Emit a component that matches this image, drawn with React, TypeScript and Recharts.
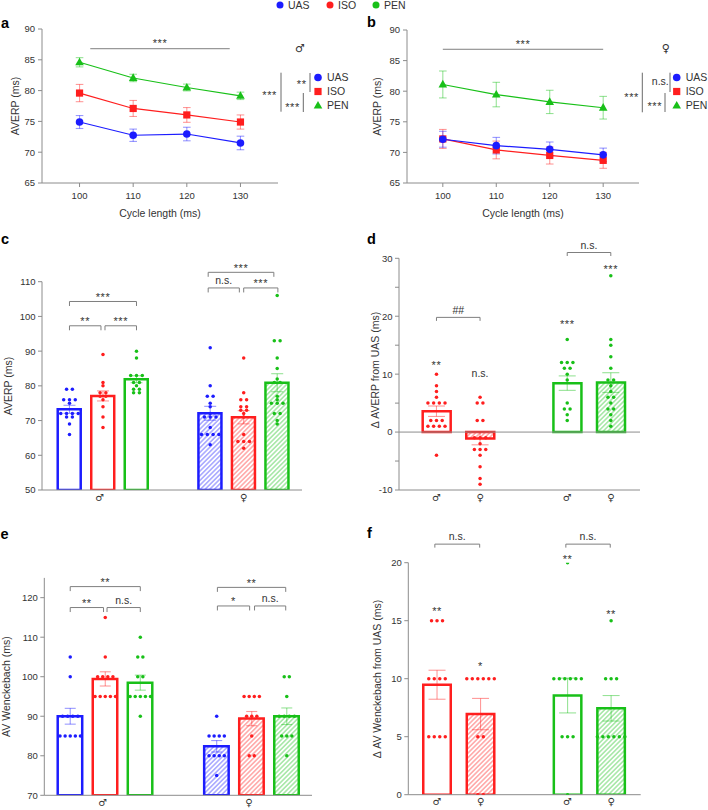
import React from 'react';
import {
  ComposedChart,
  Line,
  Bar,
  Cell,
  Scatter,
  ErrorBar,
  XAxis,
  YAxis,
  ReferenceLine,
  ReferenceDot,
} from 'recharts';

const FONT = '"Liberation Sans", Arial, Helvetica, sans-serif';
const SYMBOL_FONT = '"DejaVu Sans", "Noto Sans", sans-serif';
const INK = '#333333';
const AXIS = '#8c8c8c';
const BRACKET = '#7f7f7f';
const COLORS: Record<string, string> = { UAS: '#1c1cff', ISO: '#ff1e1e', PEN: '#18c018' };
const SOFT: Record<string, string> = {
  UAS: 'rgba(28,28,255,0.45)',
  ISO: 'rgba(255,30,30,0.45)',
  PEN: 'rgba(24,192,24,0.45)',
};

const conditions = ['UAS', 'ISO', 'PEN'];
const sexSymbols = ['♂', '♀'];

// ---- AVERP vs pacing cycle length ----
const cycleLengths = [100, 110, 120, 130];
const maleUasAverp = [74.9, 72.75, 72.95, 71.5];
const maleUasSem = [1.05, 1.0, 1.1, 1.1];
const maleIsoAverp = [79.6, 77.1, 76.05, 74.9];
const maleIsoSem = [1.4, 1.3, 1.2, 1.15];
const malePenAverp = [84.6, 82.05, 80.5, 79.15];
const malePenSem = [0.75, 0.6, 0.55, 0.6];
const femaleUasAverp = [72.15, 71.1, 70.5, 69.6];
const femaleUasSem = [1.3, 1.35, 1.2, 1.1];
const femaleIsoAverp = [72.2, 70.4, 69.5, 68.7];
const femaleIsoSem = [1.55, 1.45, 1.4, 1.3];
const femalePenAverp = [81.1, 79.45, 78.25, 77.3];
const femalePenSem = [2.2, 2.0, 1.9, 1.85];

// ---- AVERP per animal (order: ♂ UAS, ♂ ISO, ♂ PEN, ♀ UAS, ♀ ISO, ♀ PEN) ----
const averpMean = [73.25, 77.1, 81.9, 72.1, 70.95, 80.9];
const averpSem = [1.15, 1.45, 1.0, 2.0, 1.9, 2.6];
const averpMaleUas = [79, 79, 76, 76, 76, 75, 72, 72, 72, 72, 71, 71, 69, 66];
const averpMaleIso = [89, 81, 80, 78, 78, 77, 77, 76, 74, 71, 68];
const averpMalePen = [90, 88, 83, 83, 83, 81, 81, 80, 79, 79, 78, 78];
const averpFemaleUas = [91, 80, 77, 77, 75, 74, 72, 71, 71, 71, 68, 66, 66, 66, 66, 63];
const averpFemaleIso = [88, 78, 76, 76, 74, 74, 73, 73, 72, 71, 66, 64, 64, 64, 62];
const averpFemalePen = [106, 93, 93, 88, 85, 82, 81, 81, 77, 76, 75, 75, 75, 72, 72, 70, 69];

// ---- Δ AVERP from UAS (order: ♂ ISO, ♀ ISO, ♂ PEN, ♀ PEN) ----
const dAverpMean = [3.6, -1.1, 8.45, 8.55];
const dAverpSem = [0.9, 1.1, 1.25, 1.7];
const dAverpMaleIso = [10, 8, 7, 6, 5, 5, 5, 5, 2, 2, 2, 1, 1, 1, 1, -4];
const dAverpFemaleIso = [6, 5, 5, 2, 2, -1, -1, -1, -2, -3, -3, -3, -4, -6, -8, -9];
const dAverpMalePen = [16, 12, 12, 12, 11, 11, 10, 9, 5, 4, 4, 3, 2];
const dAverpFemalePen = [27, 16, 15, 13, 11, 9, 9, 8, 7, 6, 6, 5, 4, 4, 3, 2, 1];

// ---- AV Wenckebach per animal ----
const wenckMean = [90.0, 99.45, 98.5, 82.4, 89.4, 90.0];
const wenckSem = [2.0, 1.8, 1.9, 1.45, 1.8, 2.1];
const wenckMaleUas = [105, 100, 90, 90, 90, 90, 85, 85, 85, 85, 85];
const wenckMaleIso = [115, 105, 100, 100, 100, 100, 95, 95, 95, 95, 95];
const wenckMalePen = [110, 105, 105, 100, 100, 95, 95, 95, 95, 95, 90];
const wenckFemaleUas = [90, 85, 85, 85, 85, 80, 80, 80, 80, 75];
const wenckFemaleIso = [95, 95, 95, 95, 90, 90, 90, 85, 80, 80];
const wenckFemalePen = [100, 100, 95, 90, 90, 90, 90, 85, 85, 85, 80];

// ---- Δ AV Wenckebach from UAS ----
const dWenckMean = [9.48, 6.95, 8.55, 7.45];
const dWenckSem = [1.25, 1.35, 1.5, 1.1];
const dWenckMaleIso = [15, 15, 15, 10, 10, 10, 10, 5, 5, 5, 5];
const dWenckFemaleIso = [10, 10, 10, 10, 10, 10, 5, 5, 0, 0];
const dWenckMalePen = [20, 10, 10, 10, 10, 10, 10, 5, 5, 5, 0];
const dWenckFemalePen = [15, 10, 10, 10, 5, 5, 5, 5, 5, 5];

// ---------- helpers ----------
type Item = { cond: string; female: boolean; mean: number; sem: number; points: number[] };

function makeItems(conds: string[], sexes: number[], means: number[], sems: number[], pts: number[][]): Item[] {
  return conds.map((c, i) => ({ cond: c, female: sexes[i] === 1, mean: means[i], sem: sems[i], points: pts[i] }));
}

// values that repeat are spread side by side, centred on the bar
function swarm(values: number[], center: number, gap: number) {
  const counts = new Map<number, number>();
  values.forEach((v) => counts.set(v, (counts.get(v) || 0) + 1));
  const seen = new Map<number, number>();
  return values.map((v) => {
    const n = counts.get(v) || 1;
    const i = seen.get(v) || 0;
    seen.set(v, i + 1);
    return { x: center + (i - (n - 1) / 2) * gap, y: v };
  });
}

function baselineShift(text: string) {
  if (/^\*+$/.test(text)) return 6.3;
  if (/#/.test(text)) return 3.9;
  return 3.0;
}

function bracketShape(text: string, tick: number, gap: number) {
  return (p: any) => {
    const x1 = Math.min(p.x1, p.x2);
    const x2 = Math.max(p.x1, p.x2);
    const y = p.y1;
    const d = tick > 0 ? `M${x1},${y + tick}V${y}H${x2}V${y + tick}` : `M${x1},${y}H${x2}`;
    return (
      <g>
        <path d={d} fill="none" stroke={BRACKET} strokeWidth={1} />
        <text
          x={(x1 + x2) / 2}
          y={y - gap + baselineShift(text)}
          textAnchor="middle"
          fontSize={text.startsWith('*') ? 11 : 10.5}
          letterSpacing={text.startsWith('*') ? 0.6 : 0}
          fill={INK}
          fontFamily={FONT}
        >
          {text}
        </text>
      </g>
    );
  };
}

function noteShape(text: string) {
  return (p: any) => (
    <text
      x={p.cx}
      y={p.cy + baselineShift(text)}
      textAnchor="middle"
      fontSize={text.startsWith('*') ? 11 : 10.5}
      letterSpacing={text.startsWith('*') ? 0.6 : 0}
      fill={INK}
      fontFamily={FONT}
    >
      {text}
    </text>
  );
}

function Marker({ cond, cx, cy }: { cond: string; cx: number; cy: number }) {
  const c = COLORS[cond];
  if (cond === 'ISO') return <rect x={cx - 3.6} y={cy - 3.6} width={7.2} height={7.2} fill={c} />;
  if (cond === 'PEN')
    return <path d={`M${cx},${cy - 4.6}L${cx + 4.3},${cy + 3}L${cx - 4.3},${cy + 3}Z`} fill={c} />;
  return <circle cx={cx} cy={cy} r={3.8} fill={c} />;
}

const markerDot = (cond: string) => (p: any) =>
  p.cx == null ? <g key={`e${cond}${p.index}`} /> : (
    <g key={`${cond}-${p.index}`}>
      <Marker cond={cond} cx={p.cx} cy={p.cy} />
    </g>
  );

type Layout = {
  left: number;
  top: number;
  width: number;
  height: number;
  margin: { top: number; right: number; bottom: number; left: number };
  yAxisWidth: number;
  xAxisHeight: number;
};

const tickStyle = { fontSize: 9.5, fill: INK, fontFamily: FONT };

// ---------- line panels ----------
type LineCfg = {
  layout: Layout;
  xDomain: [number, number];
  series: { cond: string; values: number[]; sem: number[] }[];
  bracket: { from: number; to: number; y: number; text: string };
};

function LinePanel({ cfg }: { cfg: LineCfg }) {
  const { layout } = cfg;
  const rows = cycleLengths.map((cl, i) => {
    const r: Record<string, number> = { cl };
    cfg.series.forEach((s) => {
      r[s.cond] = s.values[i];
      r[`${s.cond}sem`] = s.sem[i];
    });
    return r;
  });
  return (
    <div style={{ position: 'absolute', left: layout.left, top: layout.top }}>
      <ComposedChart width={layout.width} height={layout.height} data={rows} margin={layout.margin}>
        <XAxis
          dataKey="cl"
          type="number"
          domain={cfg.xDomain}
          allowDataOverflow
          ticks={cycleLengths}
          interval={0}
          height={layout.xAxisHeight}
          tickSize={4}
          tickMargin={5}
          axisLine={{ stroke: AXIS }}
          tickLine={{ stroke: AXIS }}
          tick={tickStyle}
        />
        <YAxis
          type="number"
          domain={[65, 90]}
          allowDataOverflow
          ticks={[65, 70, 75, 80, 85, 90]}
          interval={0}
          width={layout.yAxisWidth}
          tickSize={4}
          tickMargin={3}
          axisLine={{ stroke: AXIS }}
          tickLine={{ stroke: AXIS }}
          tick={tickStyle}
        />
        {cfg.series.map((s) => (
          <Line
            key={s.cond}
            dataKey={s.cond}
            stroke={COLORS[s.cond]}
            strokeWidth={1.2}
            dot={markerDot(s.cond)}
            activeDot={false}
            isAnimationActive={false}
          >
            <ErrorBar dataKey={`${s.cond}sem`} width={3.8} stroke={SOFT[s.cond]} strokeWidth={1.1} />
          </Line>
        ))}
        <ReferenceLine
          segment={[
            { x: cfg.bracket.from, y: cfg.bracket.y },
            { x: cfg.bracket.to, y: cfg.bracket.y },
          ]}
          ifOverflow="visible"
          shape={bracketShape(cfg.bracket.text, 0, 7.6)}
        />
      </ComposedChart>
    </div>
  );
}

// ---------- bar + dot panels ----------
type BarCfg = {
  layout: Layout;
  xDomain: [number, number];
  yDomain: [number, number];
  yTicks: number[];
  yLabelStep: number;
  positions: number[];
  sexTicks: { x: number; label: string }[];
  items: Item[];
  barSize: number;
  capHalf: number;
  dotGapPx: number;
  bracketTick: number;
  brackets: { from: number; to: number; y: number; text: string }[];
  notes: { x: number; y: number; text: string }[];
  zeroLine?: boolean;
};

function BarPanel({ cfg }: { cfg: BarCfg }) {
  const { layout, items, positions } = cfg;
  const plotW = layout.width - layout.margin.left - layout.margin.right - layout.yAxisWidth;
  const pxPerUnit = plotW / (cfg.xDomain[1] - cfg.xDomain[0]);
  const gap = cfg.dotGapPx / pxPerUnit;
  const rows = items.map((it, i) => ({ x: positions[i], mean: it.mean }));
  const labelAt = (v: number) => {
    const t = cfg.sexTicks.find((s) => Math.abs(s.x - v) < 1e-6);
    return t ? t.label : '';
  };
  return (
    <div style={{ position: 'absolute', left: layout.left, top: layout.top }}>
      <ComposedChart width={layout.width} height={layout.height} data={rows} margin={layout.margin}>
        <XAxis
          dataKey="x"
          type="number"
          domain={cfg.xDomain}
          allowDataOverflow
          ticks={cfg.sexTicks.map((s) => s.x)}
          interval={0}
          tickFormatter={labelAt}
          height={layout.xAxisHeight}
          tickLine={false}
          tickSize={0}
          tickMargin={3.5}
          axisLine={{ stroke: AXIS }}
          tick={{ fontSize: 10, fill: INK, fontFamily: SYMBOL_FONT }}
        />
        {/* companion axis for the per-animal points, same scale as the bar axis */}
        <XAxis xAxisId="pts" dataKey="x" type="number" domain={cfg.xDomain} allowDataOverflow hide />
        <YAxis
          type="number"
          domain={cfg.yDomain}
          allowDataOverflow
          ticks={cfg.yTicks}
          interval={0}
          width={layout.yAxisWidth}
          tickSize={4}
          tickMargin={2.5}
          axisLine={{ stroke: AXIS }}
          tickLine={{ stroke: AXIS }}
          tick={tickStyle}
          tickFormatter={(v: number) => (v % cfg.yLabelStep === 0 ? String(v) : '')}
        />
        {cfg.zeroLine && <ReferenceLine y={0} stroke={AXIS} strokeWidth={1} />}
        <Bar dataKey="mean" barSize={cfg.barSize} isAnimationActive={false}>
          {items.map((it, i) => (
            <Cell
              key={`bar-${i}`}
              fill={it.female ? `url(#hatch-${it.cond})` : '#ffffff'}
              stroke={COLORS[it.cond]}
              strokeWidth={2.5}
            />
          ))}
        </Bar>
        {items.map((it, i) => (
          <Scatter
            key={`pts-${i}`}
            xAxisId="pts"
            data={swarm(it.points, positions[i], gap)}
            dataKey="y"
            isAnimationActive={false}
            shape={(p: any) => <circle cx={p.cx} cy={p.cy} r={1.75} fill={COLORS[it.cond]} />}
          />
        ))}
        {items.map((it, i) => (
          <Scatter
            key={`sem-${i}`}
            xAxisId="pts"
            data={[{ x: positions[i], y: it.mean, sem: it.sem }]}
            dataKey="y"
            isAnimationActive={false}
            shape={() => <g />}
          >
            <ErrorBar dataKey="sem" direction="y" width={cfg.capHalf} stroke={SOFT[it.cond]} strokeWidth={1.1} />
          </Scatter>
        ))}
        {cfg.brackets.map((b, i) => (
          <ReferenceLine
            key={`br-${i}`}
            segment={[
              { x: b.from, y: b.y },
              { x: b.to, y: b.y },
            ]}
            ifOverflow="visible"
            shape={bracketShape(b.text, cfg.bracketTick, 7)}
          />
        ))}
        {cfg.notes.map((n, i) => (
          <ReferenceDot key={`nt-${i}`} x={n.x} y={n.y} r={1} ifOverflow="visible" shape={noteShape(n.text)} />
        ))}
      </ComposedChart>
    </div>
  );
}

// ---------- panel configurations ----------
const panelA: LineCfg = {
  layout: { left: 0, top: 0, width: 354, height: 230, margin: { top: 29, right: 76, bottom: 22, left: 2 }, yAxisWidth: 40, xAxisHeight: 25 },
  xDomain: [93, 137],
  series: [
    { cond: 'ISO', values: maleIsoAverp, sem: maleIsoSem },
    { cond: 'UAS', values: maleUasAverp, sem: maleUasSem },
    { cond: 'PEN', values: malePenAverp, sem: malePenSem },
  ],
  bracket: { from: 102, to: 128, y: 86.8, text: '***' },
};

const panelB: LineCfg = {
  layout: { left: 354, top: 0, width: 354, height: 230, margin: { top: 30, right: 69, bottom: 22, left: 13 }, yAxisWidth: 40, xAxisHeight: 25 },
  xDomain: [93.3, 136.7],
  series: [
    { cond: 'ISO', values: femaleIsoAverp, sem: femaleIsoSem },
    { cond: 'UAS', values: femaleUasAverp, sem: femaleUasSem },
    { cond: 'PEN', values: femalePenAverp, sem: femalePenSem },
  ],
  bracket: { from: 100, to: 130, y: 86.85, text: '***' },
};

const sixConds = [...conditions, ...conditions];
const sixSexes = [0, 0, 0, 1, 1, 1];
const fourConds = ['ISO', 'ISO', 'PEN', 'PEN'];
const fourSexes = [0, 1, 0, 1];

const panelC: BarCfg = {
  layout: { left: 0, top: 230, width: 354, height: 280, margin: { top: 51.7, right: 52, bottom: 0, left: 2 }, yAxisWidth: 40, xAxisHeight: 20 },
  xDomain: [0.18, 7.94],
  yDomain: [50, 110],
  yTicks: [50, 60, 70, 80, 90, 100, 110],
  yLabelStep: 10,
  positions: [1, 2, 3, 5.2, 6.2, 7.2],
  sexTicks: [
    { x: 1.9, label: sexSymbols[0] },
    { x: 6.2, label: sexSymbols[1] },
  ],
  items: makeItems(sixConds, sixSexes, averpMean, averpSem, [
    averpMaleUas, averpMaleIso, averpMalePen, averpFemaleUas, averpFemaleIso, averpFemalePen,
  ]),
  barSize: 23,
  capHalf: 6,
  dotGapPx: 5.8,
  bracketTick: 4.5,
  brackets: [
    { from: 1, to: 3, y: 104.3, text: '***' },
    { from: 1, to: 1.94, y: 97.3, text: '**' },
    { from: 2.06, to: 3, y: 97.3, text: '***' },
    { from: 5.14, to: 7.1, y: 112.7, text: '***' },
    { from: 5.14, to: 6.07, y: 108.2, text: 'n.s.' },
    { from: 6.2, to: 7.22, y: 108.2, text: '***' },
  ],
  notes: [],
};

const panelD: BarCfg = {
  layout: { left: 354, top: 230, width: 354, height: 280, margin: { top: 28.3, right: 68, bottom: 0, left: 5 }, yAxisWidth: 40, xAxisHeight: 20 },
  xDomain: [0.14, 5.67],
  yDomain: [-10, 30],
  yTicks: [-10, -5, 0, 5, 10, 15, 20, 25, 30],
  yLabelStep: 10,
  positions: [1, 2, 4, 5],
  sexTicks: [
    { x: 1, label: sexSymbols[0] },
    { x: 2, label: sexSymbols[1] },
    { x: 4, label: sexSymbols[0] },
    { x: 5, label: sexSymbols[1] },
  ],
  items: makeItems(fourConds, fourSexes, dAverpMean, dAverpSem, [
    dAverpMaleIso, dAverpFemaleIso, dAverpMalePen, dAverpFemalePen,
  ]),
  barSize: 28,
  capHalf: 8.5,
  dotGapPx: 5.7,
  bracketTick: 3.5,
  brackets: [
    { from: 1, to: 2, y: 19.8, text: '##' },
    { from: 4, to: 5, y: 31, text: 'n.s.' },
  ],
  notes: [
    { x: 1, y: 12.0, text: '**' },
    { x: 2, y: 10.05, text: 'n.s.' },
    { x: 4, y: 19.1, text: '***' },
    { x: 5, y: 28.55, text: '***' },
  ],
  zeroLine: true,
};

const panelE: BarCfg = {
  layout: { left: 0, top: 510, width: 354, height: 300, margin: { top: 67.9, right: 42, bottom: 0.4, left: 4.3 }, yAxisWidth: 40, xAxisHeight: 14.3 },
  xDomain: [0.26, 7.9],
  yDomain: [70, 125],
  yTicks: [70, 80, 90, 100, 110, 120],
  yLabelStep: 10,
  positions: [1, 2, 3, 5.18, 6.18, 7.18],
  sexTicks: [
    { x: 1.93, label: sexSymbols[0] },
    { x: 6.1, label: sexSymbols[1] },
  ],
  items: makeItems(sixConds, sixSexes, wenckMean, wenckSem, [
    wenckMaleUas, wenckMaleIso, wenckMalePen, wenckFemaleUas, wenckFemaleIso, wenckFemalePen,
  ]),
  barSize: 24.5,
  capHalf: 5.5,
  dotGapPx: 5.1,
  bracketTick: 4.5,
  brackets: [
    { from: 1, to: 3, y: 122.8, text: '**' },
    { from: 1, to: 1.95, y: 117.5, text: '**' },
    { from: 2.05, to: 3, y: 117.5, text: 'n.s.' },
    { from: 5.2, to: 7.15, y: 122.6, text: '**' },
    { from: 5.2, to: 6.12, y: 117.9, text: '*' },
    { from: 6.26, to: 7.15, y: 117.9, text: 'n.s.' },
  ],
  notes: [],
};

const panelF: BarCfg = {
  layout: { left: 354, top: 510, width: 354, height: 300, margin: { top: 52.7, right: 67.3, bottom: 0.3, left: 14.3 }, yAxisWidth: 40, xAxisHeight: 15 },
  xDomain: [0.34, 5.68],
  yDomain: [0, 20],
  yTicks: [0, 5, 10, 15, 20],
  yLabelStep: 5,
  positions: [1, 2, 4, 5],
  sexTicks: [
    { x: 1, label: sexSymbols[0] },
    { x: 2, label: sexSymbols[1] },
    { x: 4, label: sexSymbols[0] },
    { x: 5, label: sexSymbols[1] },
  ],
  items: makeItems(fourConds, fourSexes, dWenckMean, dWenckSem, [
    dWenckMaleIso, dWenckFemaleIso, dWenckMalePen, dWenckFemalePen,
  ]),
  barSize: 27.5,
  capHalf: 8.5,
  dotGapPx: 5.5,
  bracketTick: 3.5,
  brackets: [
    { from: 0.95, to: 1.98, y: 21.6, text: 'n.s.' },
    { from: 3.96, to: 4.98, y: 21.6, text: 'n.s.' },
  ],
  notes: [
    { x: 1, y: 16.0, text: '**' },
    { x: 2, y: 11.27, text: '*' },
    { x: 4, y: 20.5, text: '**' },
    { x: 5, y: 15.75, text: '**' },
  ],
};

// ---------- titles, letters, legends ----------
function SideKey({ x, sexSymbol, sexX, lines }: { x: number; sexSymbol: string; sexX: number; lines: any }) {
  return (
    <g>
      <text x={sexX} y={52} textAnchor="middle" fontSize={11} fill={INK} fontFamily={SYMBOL_FONT}>
        {sexSymbol}
      </text>
      {lines}
      {conditions.map((c, i) => (
        <g key={c}>
          <Marker cond={c} cx={x} cy={77.5 + i * 14} />
          <text x={x + 9} y={77.5 + i * 14 + 3.8} fontSize={10.5} fill={INK} fontFamily={FONT}>
            {c}
          </text>
        </g>
      ))}
    </g>
  );
}

function Stat({ x, y, text }: { x: number; y: number; text: string }) {
  return (
    <text
      x={x}
      y={y + baselineShift(text)}
      textAnchor="middle"
      fontSize={text.startsWith('*') ? 11 : 10.5}
      letterSpacing={text.startsWith('*') ? 0.6 : 0}
      fill={INK}
      fontFamily={FONT}
    >
      {text}
    </text>
  );
}

function VLine({ x, y1, y2 }: { x: number; y1: number; y2: number }) {
  return <line x1={x} x2={x} y1={y1} y2={y2} stroke="#6a6a6a" strokeWidth={1} />;
}

function YTitle({ x, y, text }: { x: number; y: number; text: string }) {
  return (
    <text
      transform={`translate(${x},${y}) rotate(-90)`}
      textAnchor="middle"
      fontSize={10.5}
      fill={INK}
      fontFamily={FONT}
    >
      {text}
    </text>
  );
}

function Letter({ x, y, t }: { x: number; y: number; t: string }) {
  return (
    <text x={x} y={y} fontSize={14.5} fontWeight="bold" fill="#000" fontFamily={FONT}>
      {t}
    </text>
  );
}

function Overlay() {
  return (
    <svg
      width={708}
      height={810}
      style={{ position: 'absolute', left: 0, top: 0, pointerEvents: 'none' }}
    >
      <defs>
        {conditions.map((c) => (
          <pattern
            key={c}
            id={`hatch-${c}`}
            patternUnits="userSpaceOnUse"
            width={3.3}
            height={3.3}
            patternTransform="rotate(45)"
          >
            <rect width={3.3} height={3.3} fill="#ffffff" />
            <line x1={1.65} y1={0} x2={1.65} y2={3.3} stroke={COLORS[c]} strokeOpacity={0.5} strokeWidth={1.2} />
          </pattern>
        ))}
      </defs>

      {/* shared legend */}
      {conditions.map((c, i) => {
        const cx = [280, 330, 376][i];
        return (
          <g key={c}>
            <circle cx={cx} cy={5} r={3.5} fill={COLORS[c]} />
            <text x={cx + 8} y={8.6} fontSize={10.5} fill={INK} fontFamily={FONT}>
              {c}
            </text>
          </g>
        );
      })}

      <Letter x={1} y={28.3} t="a" />
      <Letter x={367} y={27.3} t="b" />
      <Letter x={1} y={244} t="c" />
      <Letter x={367} y={244} t="d" />
      <Letter x={0.5} y={539} t="e" />
      <Letter x={367} y={538.3} t="f" />

      {/* axis titles */}
      <text x={160} y={216.5} textAnchor="middle" fontSize={10.5} fill={INK} fontFamily={FONT}>
        Cycle length (ms)
      </text>
      <text x={523} y={216.5} textAnchor="middle" fontSize={10.5} fill={INK} fontFamily={FONT}>
        Cycle length (ms)
      </text>
      <YTitle x={18.5} y={106} text="AVERP (ms)" />
      <YTitle x={381} y={106.5} text="AVERP (ms)" />
      <YTitle x={11.5} y={386} text="AVERP (ms)" />
      <YTitle x={379} y={370} text="Δ AVERP from UAS (ms)" />
      <YTitle x={10} y={686.6} text="AV Wenckebach (ms)" />
      <YTitle x={381} y={679} text="Δ AV Wenckebach from UAS (ms)" />

      {/* panel a key and group comparisons */}
      <SideKey
        x={318}
        sexSymbol="♂"
        sexX={300}
        lines={
          <g>
            <VLine x={281} y1={72.7} y2={111.7} />
            <Stat x={269.7} y={92.7} text="***" />
            <VLine x={310} y1={73} y2={92} />
            <Stat x={301.7} y={82} text="**" />
            <VLine x={303.3} y1={93} y2={112} />
            <Stat x={292.5} y={104.3} text="***" />
          </g>
        }
      />
      {/* panel b key and group comparisons */}
      <SideKey
        x={676.7}
        sexSymbol="♀"
        sexX={665.7}
        lines={
          <g>
            <VLine x={642.3} y1={72.7} y2={112.3} />
            <Stat x={631.7} y={95} text="***" />
            <VLine x={670} y1={72.7} y2={92} />
            <Stat x={660.3} y={81.7} text="n.s." />
            <VLine x={665} y1={93} y2={112} />
            <Stat x={654.8} y={103.3} text="***" />
          </g>
        }
      />
    </svg>
  );
}

export default function App() {
  return (
    <div
      style={{
        position: 'absolute',
        left: 0,
        top: 0,
        width: 708,
        height: 810,
        background: '#ffffff',
        overflow: 'hidden',
        fontFamily: FONT,
      }}
    >
      <LinePanel cfg={panelA} />
      <LinePanel cfg={panelB} />
      <BarPanel cfg={panelC} />
      <BarPanel cfg={panelD} />
      <BarPanel cfg={panelE} />
      <BarPanel cfg={panelF} />
      <Overlay />
    </div>
  );
}
